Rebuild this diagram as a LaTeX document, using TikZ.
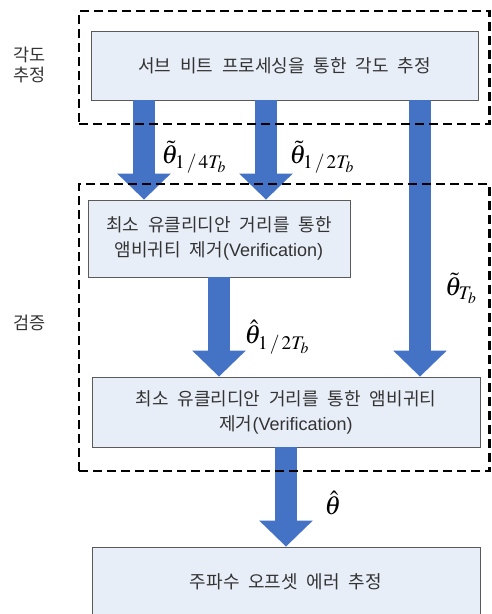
\documentclass[tikz,border=0pt]{standalone}
\usepackage{mathptmx}
\usepackage[no-math]{fontspec}
\usetikzlibrary{arrows.meta}
\newfontfamily\kr[WordSpace=2.2]{Noto Sans CJK KR}
\newfontfamily\lat{Liberation Sans}
\definecolor{boxfill}{HTML}{E8EEF8}
\definecolor{boxline}{HTML}{5A5A5A}
\definecolor{arrowblue}{HTML}{4472C4}
\definecolor{txt}{HTML}{333333}
\begin{document}
\begin{tikzpicture}[x=1pt,y=-1pt,
 box/.style={draw=boxline, line width=0.8pt, fill=boxfill, text=txt, font=\kr\fontsize{18}{25}\selectfont, align=center, inner sep=0pt},
 grp/.style={draw=black, line width=2.6pt, dash pattern=on 9pt off 5pt, inner sep=0pt},
 fat/.style={draw=arrowblue, line width=22pt, -{Triangle[width=52pt,length=26pt]}},
 lab/.style={inner sep=0pt, font=\fontsize{26}{30}\selectfont},
 side/.style={text=txt, font=\kr\fontsize{17.5}{20}\selectfont, align=center, inner sep=0pt}]
\useasboundingbox (0,0) rectangle (491,614);
% boxes
\node[box, minimum width=387pt, minimum height=69pt] (b1) at (284.5,65.5) {서브 비트 프로세싱을 통한 각도 추정};
\node[box, minimum width=262pt, minimum height=77pt] (b2) at (219,238.5) {최소 유클리디안 거리를 통한\\앰비귀티 제거{\lat(Verification)}};
\node[box, minimum width=388pt, minimum height=70pt] (b3) at (286,412) {최소 유클리디안 거리를 통한 앰비귀티\\제거{\lat(Verification)}};
\node[box, minimum width=388pt, minimum height=70pt] (b4) at (286,582) {주파수 오프셋 에러 추정};
% side labels
\node[side] (s1) at (30,64.5) {각도\\추정};
\node[side] (s2) at (30,323) {검증};
% arrow columns
\coordinate (x1) at (144,0);
\coordinate (x2) at (266,0);
\coordinate (x3) at (420,0);
\coordinate (x4) at (219,0);
\coordinate (x5) at (286,0);
\draw[fat] (b1.south -| x1) -- (b2.north -| x1);
\draw[fat] (b1.south -| x2) -- (b2.north -| x2);
\draw[fat] (b1.south -| x3) -- (b3.north -| x3);
\draw[fat] (b2.south -| x4) -- (b3.north -| x4);
\draw[fat] (b3.south -| x5) -- (b4.north -| x5);
% math labels
\node[lab] (l1) at (194,157) {$\tilde{\theta}_{1\mkern2mu/\mkern2mu 4T_b}$};
\node[lab] (l2) at (322,157) {$\tilde{\theta}_{1\mkern2mu/\mkern2mu 2T_b}$};
\node[lab] (l3) at (461,288) {$\tilde{\theta}_{T_b}$};
\node[lab] (l4) at (277,337) {$\hat{\theta}_{1\mkern2mu/\mkern2mu 2T_b}$};
\node[lab] (l5) at (333,503) {$\hat{\theta}$};
% dashed groups
\node[grp, minimum width=410.5pt, minimum height=113pt] (g1) at (284.25,67.5) {};
\node[grp, minimum width=410.5pt, minimum height=287pt] (g2) at (284.25,327.5) {};
\end{tikzpicture}
\end{document}
